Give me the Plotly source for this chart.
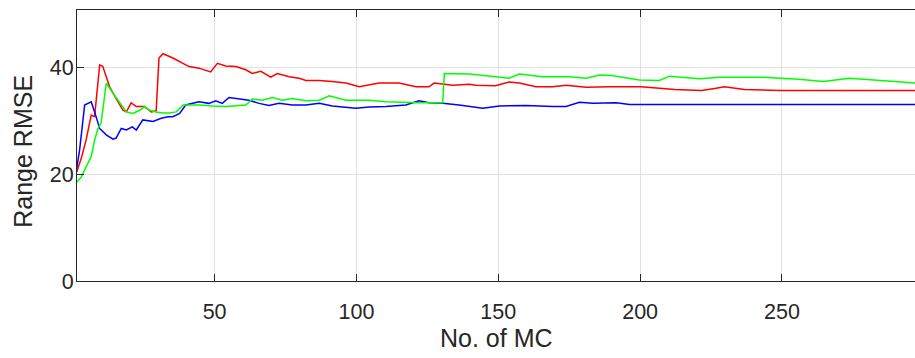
import plotly.graph_objects as go

# ---- data ----
red_x = [1, 3, 4.7, 6.5, 7.7, 9.5, 10.6, 13, 15.3, 17.7, 18.9, 20.6, 22.4, 25.3, 27.7, 29.4,
         30.4, 31.8, 35.3, 38.9, 41, 44.5, 48.6, 51, 53.9, 57.5, 61, 63.3, 66.3, 69.8, 72.1,
         76.3, 79.8, 82.2, 86.9, 91.5, 96.3, 101, 104.5, 108, 115, 121, 125.6, 127.4, 133.9,
         139.8, 142, 149, 153.8, 157.4, 163.3, 169.2, 173.9, 181, 189.2, 200.4, 212.2, 221.6,
         226.3, 229.7, 236.8, 242.7, 249.2, 300]
red_y = [19.8, 23, 26.4, 31.1, 30.8, 40.5, 40.2, 36.4, 34.2, 32, 31.7, 33.4, 32.7, 32.7, 31.7, 31.9,
         41.8, 42.6, 41.8, 40.8, 40.2, 39.9, 39.2, 40.8, 40.3, 40.2, 39.6, 38.9, 39.3, 38.2, 38.9,
         38.3, 38.0, 37.6, 37.6, 37.4, 37.1, 36.4, 36.7, 37.1, 37.1, 36.4, 36.4, 37.1, 36.7,
         36.9, 36.7, 36.6, 37.3, 37.1, 36.4, 36.4, 36.7, 36.3, 36.4, 36.4, 35.9, 35.7,
         36.1, 36.4, 35.9, 35.8, 35.7, 35.7]

blue_x = [1, 2.4, 4.2, 5.3, 6.5, 7.7, 9.5, 11.8, 14.2, 15.3, 17.1, 18.9, 21, 22.4, 24.7, 28.3,
          31.2, 33.6, 35.3, 37.7, 39.8, 44.5, 48, 50.4, 52.7, 55.1, 58.6, 62.1, 65.7, 69.2,
          72.7, 77.4, 82.2, 86.9, 91.5, 99.8, 104.5, 110.4, 117.4, 122.1, 125.6, 130.4, 136.2,
          139.8, 144.5, 150.4, 159.8, 169.2, 173.9, 178.6, 183.3, 191.6, 196.3, 300]
blue_y = [19.8, 24.5, 33, 33.3, 33.6, 31.7, 28.6, 27.4, 26.6, 26.8, 28.6, 28.3, 28.9, 28.3, 30.2, 29.9,
          30.5, 30.8, 30.8, 31.4, 33, 33.6, 33.3, 33.8, 33.3, 34.4, 34.1, 33.9, 33.3, 32.9,
          33.3, 33, 33, 33.3, 32.8, 32.4, 32.6, 32.7, 33, 33.8, 33.4, 33.3, 33,
          32.7, 32.4, 32.8, 32.9, 32.7, 32.7, 33.5, 33.3, 33.4, 33.1, 33.1]

green_x = [1, 3, 4.7, 6.5, 7.7, 8.9, 10, 11.8, 14.2, 16.5, 18.9, 21.2, 23.6, 25.3, 27.1, 29.4,
           31.8, 34, 36.5, 38.9, 44.5, 49.2, 53.9, 61, 63.3, 66.8, 70.4, 73.9, 77.4, 82.2, 86.9,
           90.4, 96.3, 104.5, 110.4, 122.1, 130.4, 131, 136.2, 139.8, 143.3, 149.1, 153.8, 157.4,
           165.6, 175, 181, 185.7, 190, 199.7, 206.8, 210.3, 220.9, 228, 242, 256, 264.5, 273.9,
           289.2, 300]
green_y = [18.3, 19.5, 21.4, 23.3, 26.4, 28.6, 29.6, 37.1, 35.2, 33.6, 31.7, 31.4, 32, 32.7, 32, 31.7,
           31.5, 31.5, 31.7, 33, 33, 32.8, 32.7, 33, 34.1, 33.9, 34.4, 33.9, 34.2, 33.8, 33.9,
           34.7, 33.9, 33.9, 33.6, 33.4, 33.4, 38.9, 38.9, 38.8, 38.6, 38.2, 38.0, 38.8,
           38.3, 38.3, 38.0, 38.6, 38.5, 37.7, 37.6, 38.4, 37.9, 38.2, 38.2, 37.8, 37.4, 38.0,
           37.4, 37.0]

x_ticks = [50, 100, 150, 200, 250]
y_ticks = [0, 20, 40]

FONT = "Liberation Sans, Arial, Helvetica, sans-serif"
AXC = "#262626"

fig = go.Figure()
for xs, ys, c in [(red_x, red_y, "#ff0000"), (blue_x, blue_y, "#0000ff"), (green_x, green_y, "#00ff00")]:
    fig.add_trace(go.Scatter(x=xs, y=ys, mode="lines", line=dict(color=c, width=1.5),
                             showlegend=False, hoverinfo="skip"))

fig.update_layout(
    width=915, height=358,
    margin=dict(l=77, r=0, t=10, b=77, pad=0),
    paper_bgcolor="white", plot_bgcolor="white",
    font=dict(family=FONT, color=AXC),
)
fig.update_xaxes(
    range=[1.5, 296.9], tickvals=x_ticks, ticks="inside", ticklen=7, tickcolor=AXC,
    showline=True, linecolor=AXC, linewidth=1, mirror="ticks",
    showgrid=True, gridcolor="#e0e0e0", gridwidth=1, zeroline=False,
    tickfont=dict(size=21.5, color=AXC, family=FONT), ticklabelstandoff=11,
)
fig.update_yaxes(
    range=[0, 50.8], tickvals=y_ticks, ticks="inside", ticklen=7, tickcolor=AXC,
    showline=True, linecolor=AXC, linewidth=1, mirror=False,
    showgrid=True, gridcolor="#e0e0e0", gridwidth=1, zeroline=False,
    tickfont=dict(size=21.5, color=AXC, family=FONT), ticklabelstandoff=-2,
)
fig.add_annotation(text="No. of MC", xref="paper", yref="paper", x=0.5006, y=-0.2085,
                   xanchor="center", yanchor="middle", showarrow=False,
                   font=dict(size=25, color=AXC, family=FONT))
fig.add_annotation(text="Range RMSE", xref="paper", yref="paper", x=-0.0644, y=0.477,
                   xanchor="center", yanchor="middle", textangle=-90, showarrow=False,
                   font=dict(size=25, color=AXC, family=FONT))

fig.write_html("out.html")
